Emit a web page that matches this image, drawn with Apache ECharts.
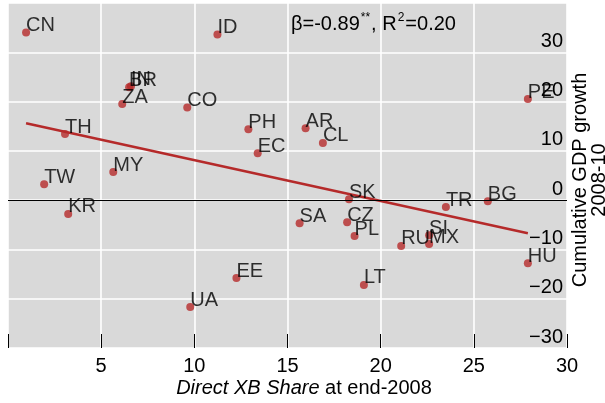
<!DOCTYPE html>
<html><head><meta charset="utf-8">
<script src="https://cdn.jsdelivr.net/npm/echarts@6/dist/echarts.min.js"></script>
<style>html,body{margin:0;padding:0;background:#fff}#c{width:605px;height:403px}</style>
</head><body><div id="c"></div>
<script>
const countries = ['CN','ID','IN','BR','ZA','CO','TH','PH','EC','MY','TW','KR','AR','CL','PE','SK','TR','BG','SA','CZ','PL','RU','SI','MX','HU','LT','EE','UA'];
const xbShare   = [0.97,11.24,6.6,6.5,6.13,9.62,3.06,12.9,13.4,5.65,1.94,3.23,15.97,16.9,27.9,18.3,23.5,25.75,15.65,18.2,18.6,21.1,22.6,22.6,27.9,19.1,12.26,9.78];
const gdpGrowth = [34.0,33.6,23.1,22.9,19.5,18.8,13.4,14.4,9.5,5.7,3.2,-2.8,14.6,11.6,20.5,0.2,-1.4,-0.2,-4.7,-4.5,-7.3,-9.3,-7.1,-8.9,-12.8,-17.2,-15.8,-21.7];
const fitX = [0.97, 27.9];
const fitY = [15.6, -6.7];
const xTicks = [0,5,10,15,20,25,30];
const yTicks = [-30,-20,-10,0,10,20,30];

const FONT = 'Liberation Sans, Arial, sans-serif';
const RED = '#b52a2a';
const chart = echarts.init(document.getElementById('c'), null, {renderer:'canvas'});
chart.setOption({
  animation:false,
  backgroundColor:'#ffffff',
  grid:{left:8,right:38,top:3,bottom:55,show:true,backgroundColor:'#d9d9d9',borderWidth:0},
  xAxis:{type:'value',min:0,max:30,interval:5,
    axisLine:{show:false,onZero:false},
    axisTick:{show:true,inside:true,length:14,lineStyle:{color:'#000',width:1}},
    splitLine:{show:true,lineStyle:{color:'#ffffff',width:1.6}},
    axisLabel:{fontFamily:FONT,fontSize:20,color:'#000',margin:8,
      formatter:v=>(xTicks.indexOf(v)>0?String(v):'')}},
  yAxis:{type:'value',position:'right',min:-30,max:40,interval:10,
    axisLine:{show:false},axisTick:{show:false},
    splitLine:{show:true,lineStyle:{color:'#ffffff',width:1.6}},
    axisLabel:{inside:true,fontFamily:FONT,fontSize:20,color:'#000',margin:4,
      verticalAlign:'bottom',padding:[0,0,1,0],
      formatter:v=>(yTicks.indexOf(v)>=0?(v<0?'\u2212'+Math.abs(v):String(v)):'')}},
  series:[
    {type:'line',data:fitX.map((x,i)=>[x,fitY[i]]),symbol:'none',
      lineStyle:{color:RED,width:2.5},z:3},
    {type:'scatter',data:xbShare.map((x,i)=>[x,gdpGrowth[i],countries[i]]),
      symbolSize:8,itemStyle:{color:RED},z:4,
      label:{show:true,formatter:p=>p.data[2],position:[4,7],align:'left',verticalAlign:'bottom',
        fontFamily:FONT,fontSize:20,color:'#000'},
      markLine:{silent:true,symbol:'none',label:{show:false},
        lineStyle:{color:'#000',width:1,type:'solid'},data:[{yAxis:0}]}}
  ],
  graphic:[
    {type:'text',left:291,top:12,z:10,style:{
      text:'{a|β=-0.89}{s|**}{a|, R}{s|2}{a|=0.20}',
      rich:{a:{fontFamily:FONT,fontSize:20,fill:'#000',lineHeight:26},
            s:{fontFamily:FONT,fontSize:12,fill:'#000',lineHeight:26,padding:[0,1,12,1]}}}},
    {type:'text',x:304,y:388,z:10,style:{
      text:'{i|Direct XB Share} at end-2008',align:'center',verticalAlign:'middle',
      fontFamily:FONT,fontSize:20,fill:'#000',
      rich:{i:{fontFamily:FONT,fontSize:20,fontStyle:'italic',fill:'#000'}}}},
    {type:'text',x:590,y:180,rotation:Math.PI/2,z:10,style:{
      text:'Cumulative GDP growth\n2008-10',align:'center',verticalAlign:'middle',
      fontFamily:FONT,fontSize:20,lineHeight:19,fill:'#000'}}
  ]
});
</script></body></html>
